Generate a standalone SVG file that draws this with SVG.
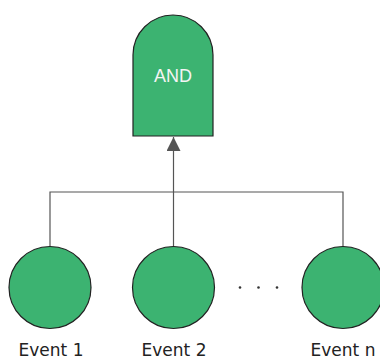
<svg xmlns="http://www.w3.org/2000/svg" width="380" height="359" viewBox="0 0 380 359">
<style>
.node{fill:#3cb371;stroke:#222;stroke-width:1.2}
.conn{fill:none;stroke:#555;stroke-width:1.2}
.lbl{font-family:"DejaVu Sans",Verdana,sans-serif;font-size:17px;fill:#222;text-anchor:middle}
.gate{font-family:"Liberation Sans",Arial,sans-serif;font-size:18px;fill:#f4f4f4;text-anchor:middle}
</style>
<defs>
<marker id="arr" viewBox="0 0 10 10" refX="10" refY="5" markerWidth="14" markerHeight="14" markerUnits="userSpaceOnUse" orient="auto">
<path d="M0,0 L10,5 L0,10 Z" fill="#555"/>
</marker>
</defs>
<g id="connectors">
<path class="conn" d="M50,247 V192 H343 V247"/>
<path class="conn" d="M173.5,247 V137" marker-end="url(#arr)"/>
</g>
<g id="and">
<path class="node" d="M133,136 V55 A40,40 0 0 1 213,55 V136 Z"/>
<text class="gate" x="173" y="82">AND</text>
</g>
<g id="event1">
<circle class="node" cx="50" cy="287.5" r="41"/>
<text class="lbl" x="51" y="356">Event 1</text>
</g>
<g id="event2">
<circle class="node" cx="173.5" cy="287.5" r="41"/>
<text class="lbl" x="174" y="356">Event 2</text>
</g>
<g id="eventn">
<circle class="node" cx="343" cy="287.5" r="41"/>
<text class="lbl" x="343" y="356">Event n</text>
</g>
<g id="dots" fill="#333">
<circle cx="240" cy="287.5" r="1.3"/>
<circle cx="258.5" cy="287.5" r="1.3"/>
<circle cx="277" cy="287.5" r="1.3"/>
</g>
</svg>
